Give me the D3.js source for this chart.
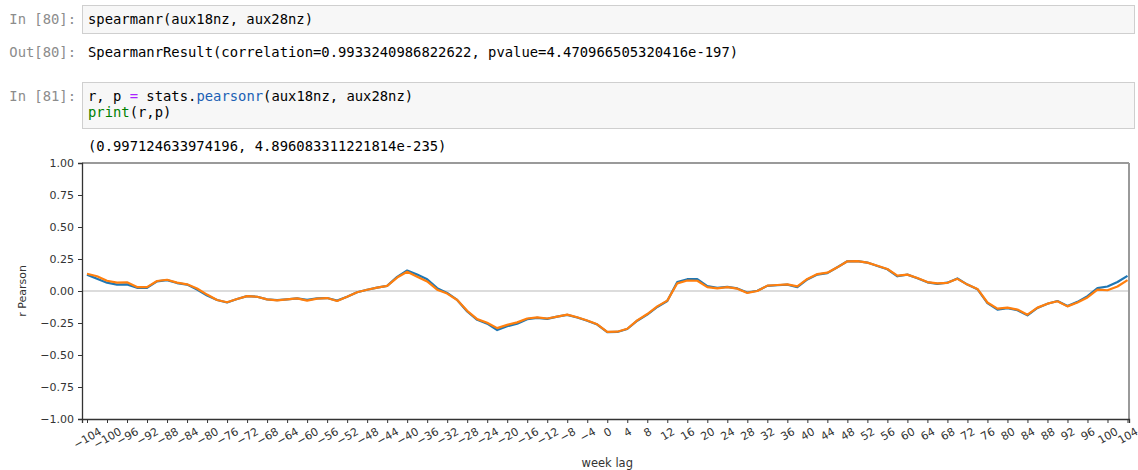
<!DOCTYPE html>
<html>
<head>
<meta charset="utf-8">
<script src="https://cdn.jsdelivr.net/npm/d3@7"></script>
<style>
    body { margin: 0; background: #fff; }
    svg text { font-family: "DejaVu Sans", sans-serif; }
    .code { font-family: "DejaVu Sans Mono", monospace; font-size: 13.85px; }
</style>
</head>
<body>
<div id="notebook"></div>
<script>
// week lags (every 2 weeks)
const lags = d3.range(-104, 105, 2)

// blue series
const rBlue = [
    0.128, 0.095, 0.065, 0.050, 0.052, 0.025, 0.025, 0.075, 0.085, 0.062,
    0.050, 0.012, -0.035, -0.070, -0.090, -0.063, -0.040, -0.045, -0.065, -0.072,
    -0.065, -0.057, -0.070, -0.058, -0.055, -0.075, -0.045, -0.010, 0.010, 0.026,
    0.040, 0.110, 0.160, 0.128, 0.092, 0.022, -0.015, -0.070, -0.160, -0.225,
    -0.255, -0.305, -0.275, -0.255, -0.220, -0.210, -0.218, -0.200, -0.187, -0.207,
    -0.232, -0.262, -0.322, -0.320, -0.297, -0.232, -0.185, -0.125, -0.078, 0.070,
    0.092, 0.092, 0.038, 0.025, 0.032, 0.020, -0.012, 0.002, 0.040, 0.045,
    0.050, 0.030, 0.090, 0.128, 0.140, 0.185, 0.232, 0.234, 0.222, 0.195,
    0.170, 0.115, 0.128, 0.100, 0.068, 0.055, 0.065, 0.098, 0.050, 0.014,
    -0.095, -0.145, -0.135, -0.150, -0.190, -0.132, -0.100, -0.078, -0.118, -0.085,
    -0.040, 0.022, 0.035, 0.070, 0.118
]

// orange series
const rOrange = [
    0.135, 0.115, 0.080, 0.065, 0.068, 0.031, 0.030, 0.078, 0.088, 0.065,
    0.052, 0.020, -0.028, -0.070, -0.088, -0.062, -0.040, -0.045, -0.065, -0.073,
    -0.066, -0.058, -0.075, -0.060, -0.055, -0.078, -0.045, -0.010, 0.010, 0.026,
    0.040, 0.105, 0.150, 0.112, 0.075, 0.010, -0.020, -0.070, -0.155, -0.220,
    -0.248, -0.290, -0.265, -0.245, -0.215, -0.206, -0.215, -0.200, -0.185, -0.205,
    -0.230, -0.260, -0.320, -0.318, -0.295, -0.230, -0.180, -0.120, -0.075, 0.060,
    0.082, 0.080, 0.030, 0.020, 0.030, 0.018, -0.015, 0.000, 0.042, 0.047,
    0.052, 0.036, 0.094, 0.132, 0.143, 0.185, 0.232, 0.234, 0.222, 0.197,
    0.172, 0.120, 0.128, 0.102, 0.070, 0.060, 0.064, 0.095, 0.050, 0.016,
    -0.090, -0.138, -0.130, -0.145, -0.185, -0.130, -0.099, -0.080, -0.120, -0.090,
    -0.050, 0.010, 0.006, 0.035, 0.085
]

const xTicks = d3.range(-104, 105, 4)
const yTicks = [-1, -0.75, -0.5, -0.25, 0, 0.25, 0.5, 0.75, 1]

// notebook cells above the plot
const cells = [
    {prompt: "In [80]:", box: [5, 33], lines: [[["spearmanr(aux18nz, aux28nz)", "#000"]]]},
    {prompt: "Out[80]:", lines: [[["SpearmanrResult(correlation=0.9933240986822622, pvalue=4.470966505320416e-197)", "#000"]]], y: 52},
    {prompt: "In [81]:", box: [82, 128], lines: [
        [["r, p ", "#000"], ["=", "#aa22ff"], [" stats.", "#000"], ["pearsonr", "#1a5fb4"], ["(aux18nz, aux28nz)", "#000"]],
        [["print", "#008000"], ["(r,p)", "#000"]]
    ]},
    {prompt: "", lines: [[["(0.997124633974196, 4.896083311221814e-235)", "#000"]]], y: 146}
]

const W = 1138, H = 470
const margin = {top: 163, right: 9, bottom: 51, left: 82}

const svg = d3.select("#notebook").append("svg")
    .attr("width", W)
    .attr("height", H)

// ---- cells
cells.forEach(c => {
    let y0
    if (c.box) {
        svg.append("rect")
            .attr("x", 82.5).attr("y", c.box[0] + 0.5)
            .attr("width", 1052).attr("height", c.box[1] - c.box[0])
            .attr("fill", "#f7f7f7").attr("stroke", "#cfcfcf")
        y0 = c.box[0] + 14
    } else {
        y0 = c.y
    }
    if (c.prompt) {
        svg.append("text").attr("class", "code")
            .attr("x", 76).attr("y", y0)
            .attr("dominant-baseline", "central")
            .attr("text-anchor", "end")
            .attr("fill", "#8c8c8c")
            .text(c.prompt)
    }
    c.lines.forEach((ln, i) => {
        let t = svg.append("text").attr("class", "code")
            .attr("x", 88).attr("y", y0 + i * 16)
            .attr("dominant-baseline", "central")
        ln.forEach(seg => t.append("tspan").attr("fill", seg[1]).text(seg[0]))
    })
})

// ---- chart
const width = W - margin.left - margin.right
const height = H - margin.top - margin.bottom

const g = svg.append("g")
    .attr("transform", `translate(${margin.left},${margin.top})`)

const x = d3.scaleLinear().domain([-105, 104.3]).range([0, width])
const y = d3.scaleLinear().domain([-1, 1]).range([height, 0])

// zero line
g.append("line")
    .attr("x1", 0).attr("x2", width)
    .attr("y1", y(0)).attr("y2", y(0))
    .attr("stroke", "#dcdcdc").attr("stroke-width", 2)

const line = d3.line()
    .x((d, i) => x(lags[i]))
    .y(d => y(d))

g.append("path").datum(rBlue)
    .attr("d", line).attr("fill", "none")
    .attr("stroke", "#1f77b4").attr("stroke-width", 2.2)
    .attr("stroke-linejoin", "round")
g.append("path").datum(rOrange)
    .attr("d", line).attr("fill", "none")
    .attr("stroke", "#ff7f0e").attr("stroke-width", 2.2)
    .attr("stroke-linejoin", "round")

// top / right spines are grey in the picture
g.append("line").attr("x1", 0).attr("x2", width).attr("y1", 0).attr("y2", 0)
    .attr("stroke", "#9a9a9a").attr("stroke-width", 2)
g.append("line").attr("x1", width).attr("x2", width).attr("y1", 0).attr("y2", height)
    .attr("stroke", "#9a9a9a").attr("stroke-width", 2)

// y axis
const yAxis = g.append("g")
    .call(d3.axisLeft(y).tickValues(yTicks).tickFormat(d => d3.format(".2f")(d).replace("-", "\u2212")).tickSize(4).tickPadding(4))
yAxis.select(".domain").attr("stroke", "#333").attr("stroke-width", 1.3)
yAxis.selectAll(".tick line").attr("stroke", "#333")
yAxis.selectAll("text").attr("font-size", 11).attr("fill", "#333")
    .attr("font-family", "DejaVu Sans, sans-serif")

// x axis
const xAxis = g.append("g")
    .attr("transform", `translate(0,${height})`)
    .call(d3.axisBottom(x).tickValues(xTicks).tickFormat(d => String(d).replace("-", "\u2212")).tickSize(4))
xAxis.select(".domain").attr("stroke", "#333").attr("stroke-width", 1.3)
xAxis.selectAll(".tick line").attr("stroke", "#333")
xAxis.selectAll("text")
    .attr("font-size", 11).attr("fill", "#333")
    .attr("font-family", "DejaVu Sans, sans-serif")
    .attr("text-anchor", "middle")
    .attr("dominant-baseline", "central")
    .attr("dy", null)
    .each(function() {
        // rotated label, box top sits just under the ticks
        let w = this.getComputedTextLength()
        let h = w * 0.5 + 11 * 0.866
        d3.select(this)
            .attr("y", null)
            .attr("transform", `translate(0,${7 + h / 2}) rotate(-30)`)
    })

// axis titles
g.append("text")
    .attr("transform", `translate(${22 - margin.left},${y(0)}) rotate(-90)`)
    .attr("text-anchor", "middle")
    .attr("dominant-baseline", "central")
    .attr("font-size", 11).attr("fill", "#333")
    .text("r Pearson")

g.append("text")
    .attr("x", x(0)).attr("y", 463 - margin.top)
    .attr("text-anchor", "middle")
    .attr("dominant-baseline", "central")
    .attr("font-size", 11.5).attr("fill", "#333")
    .text("week lag")
</script>
</body>
</html>
